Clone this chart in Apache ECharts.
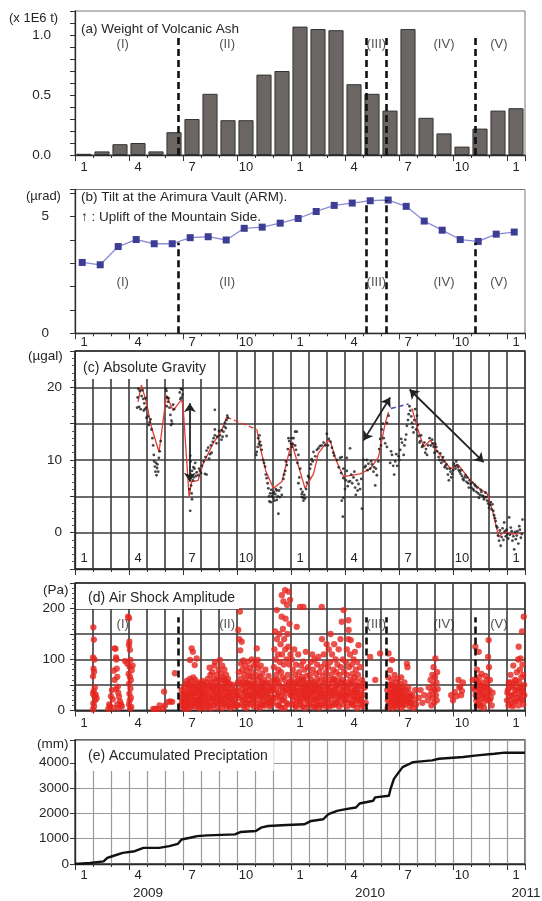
<!DOCTYPE html>
<html><head><meta charset="utf-8">
<script src="https://cdn.jsdelivr.net/npm/echarts@6/dist/echarts.min.js"></script>
<style>html,body{margin:0;padding:0;background:#fff}#c{width:542px;height:901px}</style>
</head><body><div id="c"></div>
<script>
// ---------- DATA ----------
const months = ['1','2','3','4','5','6','7','8','9','10','11','12','1','2','3','4','5','6','7','8','9','10','11','12','1'];
const ashWeight = [0.01,0.03,0.09,0.10,0.03,0.19,0.30,0.51,0.29,0.29,0.67,0.70,1.07,1.05,1.04,0.59,0.51,0.37,1.05,0.31,0.18,0.07,0.22,0.37,0.39];
const tiltValues = [3.03,2.93,3.71,4.01,3.83,3.83,4.09,4.13,3.99,4.49,4.54,4.71,4.91,5.21,5.47,5.57,5.67,5.70,5.43,4.80,4.41,4.01,3.93,4.24,4.33];
const periodBounds = [5.72,16.2,17.28,22.25];
const periodNames = ['(I)','(II)','(III)','(IV)','(V)'];
const periodNameX = [2.65,8.45,16.74,20.5,23.55];
const gravityLine = [[3.5,18.0],[3.69,20.3],[3.96,18.0],[4.25,14.5],[4.67,11.1],[5.08,18.9],[5.45,16.8],[5.92,18.3],[6.0,17.5],[6.34,4.9],[6.47,7.0],[6.84,7.2],[7.12,9.5],[7.68,12.3],[8.15,14.1],[8.42,15.9],null,[10.1,14.2],[10.28,11.8],[10.6,8.5],[11.02,6.1],[11.49,7.0],[12.04,12.5],[12.2,11.0],[12.78,6.1],[13.25,8.1],[13.52,10.9],[13.99,12.5],[14.17,12.7],[14.5,10.0],[14.92,7.7],[15.84,8.1],[16.4,8.8],[16.86,10.4],[17.23,15.0],[17.42,16.6],null,[18.72,17.1],[19.0,14.6],[19.37,11.8],[19.74,12.7],[20.1,11.3],[20.85,8.8],[21.31,9.3],[21.96,7.2],[22.5,6.0],[22.89,5.4],[23.2,3.0],[23.54,-0.6],[23.82,0.1],[24.3,-0.2],[24.75,-0.1]];
const gravityGapLine = [[8.42,15.9],[10.1,14.2]];
const gravityBlueLine = [[17.55,17.1],[18.53,17.7]];
const gravityDots = [[3.45,17.2],[3.56,17.3],[3.6,19.5],[3.7,18.8],[3.79,18.4],[3.85,17.8],[3.88,17.0],[3.92,18.5],[3.97,15.8],[4.05,16.0],[4.15,15.2],[4.25,14.2],[4.3,13.0],[4.38,10.7],[4.44,9.1],[4.5,9.6],[4.53,7.9],[4.56,8.9],[4.62,8.4],[4.71,11.2],[4.76,12.6],[5.05,19.8],[5.08,19.5],[5.12,18.6],[5.17,18.0],[5.25,17.2],[5.36,15.4],[5.4,15.0],[5.45,17.6],[5.82,19.3],[5.88,19.8],[5.97,19.0],[5.92,18.6],
[3.48,18.6],[3.52,19.8],[3.65,17.0],[3.74,19.6],[3.82,16.8],[3.95,17.2],[4.1,14.8],[4.2,15.6],[4.34,12.0],[4.4,9.8],[4.47,8.4],[4.58,9.4],[4.66,10.3],[5.1,17.4],[5.2,18.5],[5.3,16.2],[5.33,14.8],[5.5,17.0],[5.85,18.4],[5.95,19.7],
[6.4,10.6],[6.42,9.8],[6.5,8.5],[6.55,7.2],[6.5,4.6],[6.4,3.0],[6.45,6.5],[6.6,7.6],[6.68,9.6],[6.76,8.3],[6.85,7.9],[6.94,8.5],[7.05,9.2],[7.22,8.1],[7.31,8.0],[7.31,11.3],[7.4,11.7],[7.5,10.8],[7.59,11.0],[7.77,14.2],[7.77,13.4],[7.86,12.3],[7.77,16.9],[8.05,13.4],[8.14,12.8],[8.15,14.1],[8.25,13.9],[8.33,15.1],[8.42,13.3],[8.42,15.5],[8.5,15.8],[8.3,14.6],
[6.36,6.0],[6.44,8.0],[6.48,5.4],[6.58,9.0],[6.64,8.8],[6.72,7.8],[6.9,8.8],[7.0,8.2],[7.15,9.8],[7.25,10.4],[7.45,10.2],[7.55,12.0],[7.65,12.5],[7.7,13.0],[7.9,13.2],[8.0,14.0],[8.2,13.2],[8.38,14.4],[8.46,16.1],
[10.07,10.7],[10.1,11.1],[10.18,13.0],[10.22,12.2],[10.28,12.5],[10.37,11.4],[10.45,10.0],[10.56,9.1],[10.65,7.5],[10.74,6.1],[10.8,4.3],[10.84,5.4],[10.9,5.9],[10.93,5.0],[11.02,4.8],[11.05,5.6],[11.12,5.3],[11.21,4.5],[11.21,5.8],[11.3,2.6],[11.38,4.9],[11.49,5.2],[11.58,7.4],[11.68,8.5],[11.77,9.3],[11.86,13.0],[11.95,10.7],[12.04,13.0],[12.04,11.8],[12.1,12.2],[12.23,12.0],[12.23,13.9],[12.32,13.9],[12.41,10.7],[12.41,6.8],[12.51,8.8],[12.6,5.3],[12.6,4.9],[12.69,4.8],[12.69,4.4],[12.78,4.7],[12.88,6.9],[12.95,7.8],[13.06,8.8],[13.15,10.1],[13.25,11.1],[13.44,11.4],[13.6,11.9],[13.81,12.4],[13.9,12.0],[13.99,13.6],[14.1,12.9],[14.27,11.7],[14.4,10.6],[14.55,10.0],[14.73,10.3],[14.82,10.4],[14.91,8.8],[14.91,7.5],[14.91,4.8],[14.82,4.4],[14.88,2.2],
[10.15,11.8],[10.25,13.4],[10.33,12.0],[10.5,9.6],[10.6,8.0],[10.7,6.8],[10.78,5.0],[10.88,4.2],[10.97,5.4],[11.08,4.4],[11.16,6.0],[11.26,5.0],[11.34,5.8],[11.44,6.2],[11.62,8.0],[11.72,9.8],[11.82,11.5],[11.9,12.6],[12.0,12.2],[12.14,13.0],[12.28,11.4],[12.36,9.6],[12.46,7.6],[12.55,6.0],[12.64,5.6],[12.74,5.2],[12.84,6.0],[13.0,7.6],[13.1,9.4],[13.2,9.8],[13.35,10.5],[13.52,11.6],[13.7,12.0],[14.05,12.0],[14.2,12.5],[14.35,11.0],[14.65,9.0],[14.78,8.2],
[15.0,6.0],[15.1,8.5],[15.1,10.3],[15.2,7.0],[15.28,7.1],[15.28,11.6],[15.35,8.0],[15.47,7.6],[15.56,6.2],[15.6,5.2],[15.75,6.7],[15.84,6.0],[15.94,3.3],[16.03,10.0],[16.1,9.0],[16.21,10.0],[16.3,9.5],[16.4,8.8],[16.5,9.4],[16.58,8.4],[16.68,6.5],[16.77,7.9],[16.85,9.8],[16.95,12.9],[17.05,14.2],[17.15,13.0],[17.23,12.3],[17.33,15.1],[17.33,11.8],[17.42,16.1],[17.51,9.6],[17.61,10.7],[17.73,8.0],[17.79,9.8],[17.9,9.2],[17.98,10.5],[18.07,11.4],[18.17,12.4],[18.26,10.7],[18.35,12.8],[18.44,14.7],[18.54,16.3],[18.63,16.8],[18.72,15.1],[18.81,13.8],[18.9,17.0],[19.0,16.1],[19.09,13.3],[19.18,12.6],[19.28,11.8],[19.41,12.4],[19.5,11.5],[19.56,10.7],[19.7,13.0],[19.84,12.8],[19.93,11.8],[20.02,12.2],[20.12,11.2],[20.2,10.4],[20.3,10.9],[20.4,10.0],[20.49,9.8],[20.58,9.2],[20.67,8.8],[20.77,7.2],[20.86,8.4],[20.95,8.1],[21.05,9.5],[21.14,8.8],[21.23,9.3],[21.32,8.6],[21.42,8.1],[21.5,7.8],[21.6,7.2],[21.7,7.9],[21.79,7.6],[21.88,6.2],[21.98,6.7],[22.07,6.9],[22.16,5.8],[22.25,6.4],[22.35,6.2],[22.44,4.8],[22.54,5.9],[22.63,5.1],[22.72,4.6],[22.81,5.5],[22.9,4.4],[23.0,3.4],[23.1,4.2],[23.19,3.9],[23.28,2.4],[23.37,1.6],[23.46,0.7],[23.56,-1.1],[23.6,0.3],[23.65,-1.8],[23.75,0.6],[23.84,1.4],[23.93,-0.5],[24.02,-0.2],[24.12,2.1],[24.21,0.7],[24.3,-1.1],[24.4,-2.3],[24.49,-0.9],[24.58,0.2],[24.68,0.9],[24.77,-0.7],[24.86,1.8],
[15.05,7.2],[15.15,6.4],[15.4,6.8],[15.52,8.4],[15.66,7.2],[15.7,5.8],[15.9,7.4],[16.15,9.2],[16.25,8.6],[16.45,9.8],[16.62,9.0],[16.72,8.8],[16.9,11.5],[17.0,12.0],[17.1,15.0],[17.56,11.2],[17.68,9.2],[17.85,10.8],[18.02,10.0],[18.12,12.9],[18.3,12.0],[18.4,13.5],[18.5,15.5],[18.58,17.4],[18.68,16.0],[18.76,14.5],[18.85,15.5],[18.95,14.2],[19.05,14.8],[19.14,12.4],[19.23,13.4],[19.33,12.0],[19.46,11.0],[19.62,12.0],[19.77,12.0],[19.88,12.3],[19.97,11.0],[20.07,11.8],[20.25,10.0],[20.35,9.6],[20.45,10.4],[20.54,9.0],[20.63,9.4],[20.72,8.0],[20.82,8.8],[20.9,7.6],[21.0,8.6],[21.1,9.2],[21.18,9.8],[21.28,9.0],[21.37,8.4],[21.46,8.6],[21.55,7.4],[21.65,7.6],[21.75,7.0],[21.84,6.8],[21.93,7.2],[22.02,6.2],[22.12,6.0],[22.2,6.6],[22.3,5.6],[22.4,5.4],[22.5,5.2],[22.58,5.6],[22.68,5.0],[22.77,4.9],[22.86,4.9],[22.95,4.0],[23.05,3.8],[23.14,3.2],[23.24,3.0],[23.33,2.0],[23.42,0.9],[23.5,-0.4],[23.7,-0.6],[23.8,-1.0],[23.88,0.2],[23.98,0.4],[24.07,-0.8],[24.16,-0.3],[24.26,0.2],[24.35,-0.5],[24.45,0.1],[24.54,-0.4],[24.63,-1.5],[24.72,0.4],[24.82,-0.2]];
const gravityArrows = [[[6.38,17.8],[6.38,7.0]],[[16.03,12.7],[17.51,18.6]],[[18.59,19.7],[22.7,9.7]]];
const airShock = [[1.02,163],[1.05,139],[1.0,104],[1.08,100],[1.03,82],[1.06,76],[1.0,67],[1.1,45],[1.04,38],[1.0,33],[1.08,28],[1.12,20],[1.02,14],[1.06,8],[1.0,2],[1.15,31],[1.2,24],
[1.85,3],[1.9,12],[1.95,8],[2.0,28],[2.05,40],[2.1,22],[2.15,78],[2.2,122],[2.25,121],[2.28,104],[2.3,100],[2.32,82],[2.35,66],[2.38,47],[2.4,35],[2.45,27],[2.5,18],[2.55,12],[2.6,8],[2.2,60],[2.28,42],[2.35,12],[2.42,5],[2.12,5],
[2.78,97],[2.9,92],[2.95,184],[3.0,181],[3.02,135],[3.0,128],[3.05,119],[3.08,99],[3.03,86],[2.98,72],[3.05,66],[3.1,60],[3.0,52],[3.08,43],[3.02,33],[3.1,25],[3.04,20],[3.0,12],[3.12,7],[3.15,79],[3.2,88],[3.06,4],
[4.35,3],[4.45,3],[4.62,3],[4.7,10],[4.9,4],[4.95,37],[5.0,10],[5.18,17],[5.3,18],[5.55,73],[5.4,17],
[5.85,10],[5.9,25],[5.92,40],[5.95,18],[6.0,32],[6.02,5],[6.05,45],[6.08,22],[6.1,12],[6.12,35],[6.15,52],[6.18,28],[6.2,8],[6.21,58],[6.25,40],[6.28,18],[6.3,30],[6.32,4],[6.35,46],[6.38,62],[6.39,99],[6.4,25],[6.42,12],[6.45,38],[6.48,122],[6.5,50],[6.52,20],[6.55,115],[6.57,65],[6.6,34],[6.62,8],[6.65,89],[6.66,44],[6.7,26],[6.72,14],[6.76,102],[6.78,55],[6.8,38],[6.83,20],[6.86,6],[6.9,42],[6.92,30],[6.95,15],[6.98,52],
[6.03,15],[6.07,30],[6.13,3],[6.17,20],[6.23,26],[6.27,50],[6.33,14],[6.37,34],[6.43,56],[6.47,8],[6.53,30],[6.58,44],[6.63,20],[6.68,60],[6.73,36],[6.77,12],[6.82,48],[6.88,22],[6.93,4],[6.97,28],
[7.02,22],[7.05,8],[7.08,35],[7.1,48],[7.14,15],[7.18,28],[7.2,40],[7.24,5],[7.28,55],[7.3,18],[7.34,32],[7.38,62],[7.4,12],[7.44,45],[7.48,84],[7.5,26],[7.52,70],[7.55,38],[7.58,18],[7.6,55],[7.62,75],[7.65,30],[7.68,46],[7.7,10],[7.72,62],[7.75,88],[7.77,95],[7.8,40],[7.82,25],[7.85,58],[7.88,70],[7.9,15],[7.92,48],[7.95,34],[7.98,80],
[7.03,40],[7.07,58],[7.12,28],[7.16,50],[7.22,20],[7.26,36],[7.32,8],[7.36,48],[7.42,25],[7.46,10],[7.53,50],[7.57,4],[7.63,42],[7.67,22],[7.73,36],[7.78,14],[7.83,48],[7.87,30],[7.93,6],[7.97,22],
[8.02,60],[8.05,99],[8.06,42],[8.1,20],[8.12,72],[8.15,52],[8.18,88],[8.2,30],[8.22,65],[8.25,12],[8.28,45],[8.3,80],[8.32,36],[8.35,58],[8.38,22],[8.4,70],[8.42,48],[8.45,8],[8.48,30],[8.5,62],[8.52,40],[8.55,18],[8.6,52],[8.62,35],[8.65,25],[8.7,45],[8.72,12],[8.75,30],[8.8,20],[8.85,38],[8.9,15],[8.95,28],
[8.03,30],[8.08,15],[8.13,40],[8.17,5],[8.23,25],[8.27,60],[8.33,14],[8.37,42],[8.43,28],[8.47,55],[8.53,10],[8.57,35],[8.63,5],[8.68,22],[8.77,50],[8.83,8],[8.92,40],[8.97,10],
[9.02,30],[9.05,55],[9.07,158],[9.1,75],[9.12,140],[9.16,194],[9.18,118],[9.2,62],[9.22,92],[9.26,135],[9.28,40],[9.3,80],[9.32,20],[9.35,98],[9.38,50],[9.4,70],[9.42,35],[9.45,88],[9.48,60],[9.5,15],[9.52,45],[9.55,78],[9.58,30],[9.6,55],[9.62,96],[9.65,68],[9.68,40],[9.7,22],[9.72,84],[9.75,52],[9.78,66],[9.8,30],[9.82,100],[9.85,75],[9.88,45],[9.9,20],[9.92,60],[9.95,88],[9.98,36],
[9.03,10],[9.08,38],[9.13,25],[9.17,50],[9.23,12],[9.27,28],[9.33,55],[9.37,8],[9.43,22],[9.47,38],[9.53,5],[9.57,28],[9.63,14],[9.67,50],[9.73,30],[9.77,12],[9.83,42],[9.87,25],[9.93,8],[9.97,50],
[10.02,50],[10.05,92],[10.08,70],[10.1,122],[10.12,30],[10.15,99],[10.18,60],[10.2,82],[10.22,40],[10.25,15],[10.28,66],[10.3,48],[10.32,88],[10.35,25],[10.38,55],[10.4,72],[10.42,35],[10.45,10],[10.48,45],[10.5,60],[10.55,28],[10.58,80],[10.6,40],[10.65,18],[10.7,52],[10.72,32],[10.75,68],[10.8,22],[10.85,45],[10.88,12],[10.92,38],[10.95,58],[10.98,25],
[10.03,20],[10.07,35],[10.13,8],[10.17,42],[10.23,28],[10.27,5],[10.33,38],[10.37,12],[10.43,50],[10.47,22],[10.53,40],[10.57,10],[10.63,32],[10.67,55],[10.73,15],[10.78,40],[10.83,8],[10.9,25],[10.97,45],
[11.02,40],[11.05,85],[11.08,120],[11.1,60],[11.12,155],[11.15,100],[11.18,70],[11.21,197],[11.22,140],[11.25,30],[11.28,110],[11.3,80],[11.32,55],[11.35,150],[11.38,95],[11.4,20],[11.42,130],[11.45,75],[11.48,184],[11.49,226],[11.5,110],[11.52,45],[11.55,160],[11.58,214],[11.6,90],[11.62,140],[11.65,60],[11.67,236],[11.68,120],[11.7,180],[11.72,35],[11.75,100],[11.78,207],[11.8,150],[11.82,70],[11.85,125],[11.86,233],[11.88,50],[11.9,90],[11.92,170],[11.95,217],[11.97,110],[11.98,30],[11.55,20],[11.35,10],[11.75,15],[11.65,5],
[11.03,15],[11.07,50],[11.13,25],[11.17,40],[11.23,60],[11.27,10],[11.33,35],[11.37,48],[11.43,28],[11.47,5],[11.53,65],[11.57,38],[11.63,25],[11.7,48],[11.77,40],[11.83,12],[11.9,55],[11.96,42],
[12.02,60],[12.05,100],[12.08,40],[12.1,80],[12.12,20],[12.15,55],[12.18,120],[12.2,35],[12.22,70],[12.25,10],[12.28,90],[12.3,48],[12.32,164],[12.35,25],[12.38,62],[12.4,110],[12.42,38],[12.45,75],[12.48,18],[12.5,203],[12.52,52],[12.55,88],[12.58,30],[12.6,66],[12.62,8],[12.65,42],[12.68,96],[12.69,203],[12.7,58],[12.72,20],[12.75,80],[12.78,35],[12.8,50],[12.82,115],[12.85,25],[12.88,68],[12.9,44],[12.92,12],[12.95,85],[12.98,55],
[12.03,30],[12.07,12],[12.13,45],[12.17,28],[12.23,52],[12.27,6],[12.33,38],[12.37,18],[12.43,58],[12.47,30],[12.53,12],[12.57,45],[12.63,25],[12.67,60],[12.73,38],[12.77,5],[12.83,30],[12.87,48],[12.93,22],[12.97,35],
[13.02,30],[13.05,70],[13.08,45],[13.1,95],[13.12,15],[13.15,60],[13.18,110],[13.2,38],[13.22,80],[13.25,22],[13.28,55],[13.3,100],[13.32,40],[13.35,8],[13.38,72],[13.4,50],[13.42,28],[13.45,90],[13.48,62],[13.5,18],[13.52,105],[13.55,45],[13.58,75],[13.6,35],[13.62,58],[13.65,12],[13.68,85],[13.71,203],[13.72,140],[13.75,48],[13.78,68],[13.8,25],[13.82,110],[13.85,40],[13.88,92],[13.9,60],[13.92,15],[13.95,75],[13.98,130],
[13.03,12],[13.07,40],[13.13,28],[13.17,50],[13.23,6],[13.27,35],[13.33,22],[13.37,48],[13.43,12],[13.47,38],[13.53,25],[13.57,5],[13.63,42],[13.67,28],[13.73,10],[13.77,35],[13.83,20],[13.87,55],[13.93,32],[13.97,8],
[14.02,45],[14.05,85],[14.08,20],[14.1,120],[14.12,60],[14.15,38],[14.18,95],[14.2,150],[14.22,70],[14.25,28],[14.28,110],[14.3,55],[14.32,10],[14.35,80],[14.38,40],[14.4,130],[14.42,62],[14.45,22],[14.48,100],[14.5,48],[14.52,75],[14.55,15],[14.58,90],[14.6,35],[14.62,58],[14.65,120],[14.68,30],[14.7,70],[14.72,45],[14.75,140],[14.78,85],[14.8,25],[14.82,174],[14.85,60],[14.88,100],[14.9,40],[14.92,197],[14.95,75],[14.98,18],
[14.03,25],[14.07,50],[14.13,8],[14.17,35],[14.23,45],[14.27,15],[14.33,30],[14.37,60],[14.43,40],[14.47,12],[14.53,32],[14.57,50],[14.63,20],[14.67,8],[14.73,28],[14.77,55],[14.83,35],[14.87,12],[14.93,48],[14.97,30],
[15.02,55],[15.05,95],[15.08,30],[15.1,120],[15.12,70],[15.15,45],[15.18,140],[15.19,177],[15.2,158],[15.22,85],[15.25,20],[15.28,110],[15.3,60],[15.32,138],[15.35,38],[15.38,90],[15.4,12],[15.42,72],[15.45,50],[15.48,100],[15.5,28],[15.52,65],[15.55,115],[15.58,42],[15.6,80],[15.62,18],[15.65,58],[15.68,95],[15.7,35],[15.72,70],[15.75,128],[15.78,48],[15.8,22],[15.85,85],[15.9,40],[15.95,60],[16.0,53],[16.05,30],[16.1,45],[16.15,15],
[15.03,20],[15.07,40],[15.13,8],[15.17,30],[15.23,50],[15.27,35],[15.33,15],[15.37,55],[15.43,28],[15.47,10],[15.53,40],[15.57,22],[15.63,35],[15.67,5],[15.73,48],[15.77,25],[15.83,12],[15.88,30],[15.93,18],[15.98,8],
[16.4,105],[16.68,60],[16.95,112],
[17.35,40],[17.38,20],[17.4,65],[17.42,112],[17.45,30],[17.48,50],[17.5,79],[17.52,10],[17.55,42],[17.58,25],[17.6,60],[17.61,99],[17.65,35],[17.68,15],[17.7,48],[17.72,28],[17.75,70],[17.78,38],[17.8,8],[17.82,55],[17.85,22],[17.88,45],[17.9,32],[17.92,62],[17.95,18],[17.98,40],[18.0,28],[18.05,52],[18.08,12],[18.1,36],[18.12,65],[18.15,22],[18.18,45],[18.2,30],[18.25,10],[18.3,55],[18.35,25],[18.4,40],[18.44,92],[18.47,85],[18.5,18],[18.55,35],[18.6,8],[18.65,28],[18.7,15],[18.8,5],[18.85,22],[18.9,40],[18.95,12],
[17.37,5],[17.43,28],[17.47,15],[17.53,35],[17.57,50],[17.63,22],[17.67,5],[17.73,40],[17.77,18],[17.83,30],[17.87,10],[17.93,45],[17.97,25],[18.03,15],[18.07,38],[18.13,5],[18.17,30],[18.23,20],[18.28,42],[18.33,12],[18.38,30],[18.45,20],[18.52,45],[18.58,25],[18.63,15],[18.75,30],
[19.1,25],[19.2,40],[19.3,15],[19.4,30],[19.6,20],[19.65,45],[19.7,30],[19.75,60],[19.8,10],[19.82,38],[19.85,70],[19.88,25],[19.9,50],[19.92,85],[19.95,15],[19.98,40],[20.0,65],[20.02,102],[20.05,30],[20.08,55],[20.1,20],[20.12,75],[20.15,42],
[20.9,30],[21.0,20],[21.1,36],[21.2,28],[21.31,60],[21.35,45],[21.4,47],[21.45,30],[21.5,38],[21.55,55],[22.1,60],[22.15,45],
[22.22,40],[22.24,125],[22.28,60],[22.3,20],[22.33,80],[22.36,45],[22.4,30],[22.43,115],[22.45,65],[22.48,12],[22.5,50],[22.55,35],[22.58,72],[22.6,25],[22.65,55],[22.7,15],[22.75,42],[22.8,68],[22.85,30],[22.88,50],[22.92,20],[22.95,105],[22.98,138],[23.0,85],[23.02,40],[23.05,60],[23.1,25],[23.15,10],[23.2,35],
[22.26,30],[22.32,10],[22.38,55],[22.42,20],[22.47,40],[22.52,8],[22.57,48],[22.62,40],[22.68,30],[22.72,5],[22.78,25],[22.83,45],[22.9,60],[22.96,35],[23.04,20],
[24.0,20],[24.05,40],[24.1,55],[24.15,28],[24.2,70],[24.25,12],[24.3,45],[24.35,88],[24.4,32],[24.45,60],[24.5,18],[24.55,75],[24.6,40],[24.62,100],[24.65,125],[24.68,55],[24.7,30],[24.72,80],[24.75,102],[24.78,45],[24.8,65],[24.82,20],[24.84,155],[24.86,90],[24.88,38],[24.9,70],[24.93,184],[24.95,50],
[24.02,35],[24.08,10],[24.12,45],[24.18,20],[24.22,55],[24.28,30],[24.32,8],[24.38,50],[24.42,20],[24.48,40],[24.52,58],[24.58,25],[24.63,10],[24.7,45],[24.77,22],[24.83,35],[24.9,12],[24.96,30]];
const precip = [[0,0],[0.83,40],[1.59,106],[1.79,239],[2.07,306],[2.65,439],[3.32,505],[3.8,638],[4.67,638],[5.24,704],[5.72,797],[5.92,970],[6.39,1037],[6.78,1103],[7.36,1130],[8.89,1170],[9.18,1263],[10.05,1302],[10.33,1435],[10.72,1502],[11.77,1542],[12.73,1568],[13.12,1701],[13.79,1768],[14.08,1967],[14.56,2100],[15.04,2166],[15.61,2233],[15.81,2392],[16.57,2499],[16.67,2632],[17.44,2698],[17.53,2964],[17.72,3362],[17.92,3562],[18.2,3828],[18.4,3894],[18.78,4027],[19.84,4093],[20.22,4160],[21.57,4226],[22.33,4293],[23.3,4359],[23.87,4399],[25,4399]];
const yearLabels = ['2009','2010','2011'];

// ---------- CHART ----------
const F = '"Liberation Sans", Arial, Helvetica, sans-serif';
const TXT = '#262626';
const grids = [
  {left:75, top:11, width:450, height:144},
  {left:75, top:189.5, width:450, height:143.8},
  {left:75, top:351, width:450, height:218},
  {left:75, top:583, width:450, height:127.5},
  {left:75, top:740, width:450, height:124}
].map((g,i)=>Object.assign(g,{show:true, borderColor: i<2 ? '#777' : '#333', borderWidth: i<2 ? 1 : 1.3, backgroundColor:'transparent'}));

const xOpts = [
  {split:false, margin:6},
  {split:false, margin:3},
  {split:true, splitColor:'#3a3a3a', splitWidth:1.6, inside:true, margin:4},
  {split:true, splitColor:'#3a3a3a', splitWidth:1.6, margin:6},
  {split:true, splitColor:'#9a9a9a', splitWidth:1.2, margin:5}
];
const xAxis = [];
xOpts.forEach((o,g)=>{
  xAxis.push({type:'value', gridIndex:g, position:'bottom', min:0, max:25, interval:1,
    axisLine:{show:true, onZero:false, lineStyle:{color:'#2a2a2a', width:1.3}},
    axisTick:{show:true, length:3, lineStyle:{color:'#333'}},
    axisLabel:{show:false},
    splitLine:{show:o.split, lineStyle:{color:o.splitColor, width:o.splitWidth}}});
  xAxis.push({type:'category', gridIndex:g, position:'bottom', data:months, boundaryGap:true,
    axisLine:{show:false, onZero:false}, axisTick:{show:false}, splitLine:{show:false},
    axisLabel:{interval:(i)=>i%3===0, inside:!!o.inside, margin:o.margin, fontSize:13, color:TXT, fontFamily:F}});
  xAxis.push({type:'value', gridIndex:g, position:'bottom', min:0, max:25, interval:3,
    axisLine:{show:false, onZero:false}, axisTick:{show:true, length:6, lineStyle:{color:'#333'}},
    axisLabel:{show:false}, splitLine:{show:false}});
});

function yAx(g, min, max, interval, labelFn, margin, extra){
  return Object.assign({type:'value', gridIndex:g, position:'left', min, max, interval,
    axisLine:{show:true, onZero:false, lineStyle:{color:'#2a2a2a', width:1.3}},
    axisTick:{show:true, length:5, lineStyle:{color:'#333'}},
    axisLabel:{formatter:labelFn, margin, fontSize:13.5, color:TXT, fontFamily:F},
    splitLine:{show:false}}, extra||{});
}
const yAxis = [
  yAx(0, 0, 1.2, 0.1, v=>{const r=Math.round(v*10); return (r%5===0 && r<=10)?(r/10).toFixed(1):'';}, 24),
  yAx(1, 0, 6.15, 1, v=>(Math.abs(v)<1e-9||Math.abs(v-5)<1e-9)?String(Math.round(v)):'', 26),
  yAx(2, -5, 25, 5, v=>([0,10,20].includes(Math.round(v)))?String(Math.round(v)):'', 13,
    {splitLine:{show:true, lineStyle:{color:'#3a3a3a', width:1.6}}, minorTick:{show:true, splitNumber:5, length:3, lineStyle:{color:'#555'}}}),
  yAx(3, 0, 250, 50, v=>([0,100,200].includes(Math.round(v)))?String(Math.round(v)):'', 10,
    {splitLine:{show:true, lineStyle:{color:'#3a3a3a', width:1.6}}, minorTick:{show:true, splitNumber:5, length:3, lineStyle:{color:'#555'}}}),
  yAx(4, 0, 4900, 1000, v=>(v<=4000 && Math.round(v)%1000===0)?String(Math.round(v)):'', 6,
    {splitLine:{show:true, lineStyle:{color:'#9a9a9a', width:1.2}}})
];

function periodSeries(xIdx, yIdx, labelY, tops){
  return {type:'scatter', xAxisIndex:xIdx, yAxisIndex:yIdx, symbolSize:0, z:5, silent:true,
    data: periodNameX.map((x,i)=>({value:[x,labelY], label:{formatter:periodNames[i]}})),
    label:{show:true, position:'inside', fontSize:13, color:TXT, fontFamily:F},
    markLine:{silent:true, symbol:['none','none'], label:{show:false},
      lineStyle:{color:'#111', width:2.6, type:[7,4]},
      data: periodBounds.map((x,i)=>[{coord:[x,0]},{coord:[x,tops[i]]}])}};
}

const series = [
  {type:'bar', xAxisIndex:1, yAxisIndex:0, data:ashWeight, barWidth:'84%',
    itemStyle:{color:'#6b6663', borderColor:'#333', borderWidth:1}},
  periodSeries(0, 0, 0.92, [1,1,1,1]),
  {type:'line', xAxisIndex:3, yAxisIndex:1, data:tiltValues.map((v,i)=>[i+0.4,v]),
    symbol:'rect', symbolSize:7, itemStyle:{color:'#3d3d95'}, lineStyle:{color:'#8b8bd4', width:1.3}},
  periodSeries(3, 1, 2.16, [3.88,5.53,5.70,3.88]),
  {type:'line', xAxisIndex:6, yAxisIndex:2, data:gravityLine, symbol:'none', connectNulls:false,
    lineStyle:{color:'#e23b34', width:1.3}, z:3},
  {type:'line', xAxisIndex:6, yAxisIndex:2, data:gravityGapLine, symbol:'none',
    lineStyle:{color:'#e23b34', width:1.3, type:[5,3]}, z:3},
  {type:'line', xAxisIndex:6, yAxisIndex:2, data:gravityBlueLine, symbol:'none',
    lineStyle:{color:'#4848b8', width:1.6, type:[5,3]}, z:3},
  {type:'scatter', xAxisIndex:6, yAxisIndex:2, data:gravityDots, symbolSize:2.8, z:4,
    itemStyle:{color:'#1c1c1c'},
    markLine:{silent:true, symbol:['arrow','arrow'], symbolSize:9, label:{show:false},
      lineStyle:{color:'#222', width:1.8, type:'solid'},
      data: gravityArrows.map(a=>[{coord:a[0]},{coord:a[1]}])}},
  {type:'scatter', xAxisIndex:9, yAxisIndex:3, data:airShock, symbolSize:6.3,
    itemStyle:{color:'#e6261f'}},
  periodSeries(9, 3, 168, [183,183,183,183]),
  {type:'line', xAxisIndex:12, yAxisIndex:4, data:precip, symbol:'none',
    lineStyle:{color:'#111', width:2.4}}
];

const ts = (s)=>({fontSize:s||13.5, fontWeight:'normal', color:TXT, fontFamily:F});
const title = [
  {text:'(x 1E6 t)', left:9, top:12, padding:0, textStyle:ts(13)},
  {text:'(a) Weight of Volcanic Ash', left:81, top:22, padding:0, textStyle:ts(13.5)},
  {text:'(\u00b5rad)', left:26, top:190, padding:0, textStyle:ts(13)},
  {text:'(b) Tilt at the Arimura Vault (ARM).\n\u2191 : Uplift of the Mountain Side.', left:81, top:187, padding:0,
    textStyle:Object.assign(ts(13.5),{lineHeight:20})},
  {text:'(\u00b5gal)', left:28, top:349, padding:0, textStyle:ts(13.5)},
  {text:'(c) Absolute Gravity', left:76, top:352, padding:[8,4,3,7], backgroundColor:'#fff',
    textStyle:Object.assign(ts(14),{lineHeight:16})},
  {text:'(Pa)', left:43, top:583, padding:0, textStyle:ts(13.5)},
  {text:'(d) Air Shock Amplitude', left:76, top:584, padding:[6,4,3,12], backgroundColor:'#fff',
    textStyle:Object.assign(ts(14),{lineHeight:16})},
  {text:'(mm)', left:37, top:737, padding:0, textStyle:ts(13.5)},
  {text:'(e) Accumulated Preciptation', left:76, top:741, padding:[7,6,7,12], backgroundColor:'#fff',
    textStyle:Object.assign(ts(14),{lineHeight:16})}
];

const yearX = [148, 370, 526];
const graphic = yearLabels.map((t,i)=>({type:'text', x:yearX[i], y:893,
  style:{text:t, align:'center', verticalAlign:'middle', textAlign:'center', textVerticalAlign:'middle',
    font:'13.5px "Liberation Sans", Arial, sans-serif', fill:TXT}}));

const chart = echarts.init(document.getElementById('c'), null, {renderer:'canvas'});
chart.setOption({animation:false, backgroundColor:'#fff', textStyle:{fontFamily:F},
  title, grid:grids, xAxis, yAxis, series, graphic});
</script></body></html>
